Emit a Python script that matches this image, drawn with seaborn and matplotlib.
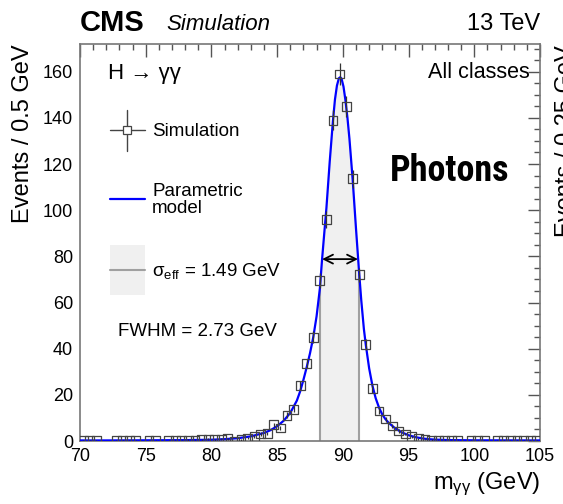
import numpy as np
import pandas as pd
import matplotlib
matplotlib.use("Agg")
import matplotlib.pyplot as plt
import seaborn as sns
from matplotlib.ticker import MultipleLocator
from matplotlib.lines import Line2D
from matplotlib.patches import Rectangle
from matplotlib import font_manager

# ---------------- data ----------------
mass = [70.25, 70.75, 71.25, 72.75, 73.25, 73.75, 74.25, 75.25, 75.75,
        76.75, 77.25, 77.75, 78.25, 78.75, 79.25, 79.75, 80.25, 80.75,
        81.25, 81.75, 82.25, 82.75, 83.25, 83.75, 84.25, 84.75, 85.25,
        85.75, 86.25, 86.75, 87.25, 87.75, 88.25, 88.75, 89.25, 89.75,
        90.25, 90.75, 91.25, 91.75, 92.25, 92.75, 93.25, 93.75, 94.25,
        94.75, 95.25, 95.75, 96.25, 96.75, 97.25, 97.75, 98.25, 98.75,
        99.75, 100.25, 100.75, 101.75, 102.25, 102.75, 103.25, 103.75,
        104.25, 104.75]
events = [0.3, 0.3, 0.3, 0.3, 0.3, 0.3, 0.3, 0.2, 0.3,
          0.3, 0.3, 0.3, 0.4, 0.3, 0.6, 0.7, 0.6, 0.8,
          1.0, -0.3, 0.6, 1.3, 2.1, 3.0, 3.4, 7.0, 5.6,
          11.2, 13.8, 24.0, 33.6, 45.0, 69.6, 96.0, 139.0, 159.0,
          145.0, 113.6, 72.0, 41.7, 22.6, 13.0, 9.5, 6.5, 4.3,
          3.0, 1.8, 1.0, 0.6, 0.4, 0.3, 0.3, 0.3, 0.3,
          0.3, 0.3, 0.3, 0.3, 0.3, 0.3, 0.3, 0.3,
          0.3, 0.3]
errors = [0.3, 0.3, 0.3, 0.3, 0.3, 0.3, 0.3, 0.3, 0.3,
          0.3, 0.3, 0.3, 0.3, 0.3, 0.4, 0.4, 0.4, 0.4,
          0.5, 0.4, 0.4, 0.5, 0.6, 0.7, 0.7, 1.0, 0.9,
          1.2, 1.4, 1.8, 2.1, 2.5, 3.1, 3.6, 4.4, 4.7,
          4.5, 3.9, 3.1, 2.4, 1.8, 1.3, 1.1, 0.9, 0.8,
          0.6, 0.5, 0.4, 0.3, 0.3, 0.3, 0.3, 0.3, 0.3,
          0.3, 0.3, 0.3, 0.3, 0.3, 0.3, 0.3, 0.3,
          0.3, 0.3]

model_mass = [70, 72, 75, 78, 80, 81, 82, 83, 84, 84.5, 85, 85.5, 86, 86.5,
              86.75, 87, 87.25, 87.5, 87.75, 88, 88.25, 88.42, 88.6, 88.75,
              89, 89.25, 89.4, 89.55, 89.7, 89.8, 89.9, 90.05, 90.2, 90.35,
              90.5, 90.75, 91, 91.15, 91.23, 91.4, 91.6, 91.75, 92, 92.25,
              92.5, 92.75, 93, 93.25, 93.5, 94, 94.5, 95, 95.5, 96, 96.5,
              97, 98, 100, 105]
model_events = [0.25, 0.25, 0.3, 0.38, 0.55, 0.8, 1.2, 2.0, 3.5, 4.7, 6.4,
                8.8, 12.2, 17.5, 21.5, 26.5, 32, 38, 45, 54, 66, 78.8, 91,
                101, 121, 139, 148, 154, 157.2, 157.6, 157, 153.5, 147.5,
                140, 131, 113, 92, 80, 73.5, 61, 48.5, 41.5, 31.5, 24, 18.5,
                14.5, 11.5, 9.4, 7.8, 5.4, 3.7, 2.5, 1.7, 1.15, 0.8, 0.6,
                0.4, 0.3, 0.25]

seff_lo, seff_hi = 88.25, 91.23
fwhm_lo, fwhm_hi, half_max = 88.42, 91.15, 78.8

xticks = [70, 75, 80, 85, 90, 95, 100, 105]
yticks = [0, 20, 40, 60, 80, 100, 120, 140, 160]

# ---------------- style ----------------
sns.set_style("white")
plt.rcParams["font.family"] = ["Liberation Sans", "DejaVu Sans"]
plt.rcParams["text.color"] = "black"
plt.rcParams["axes.labelcolor"] = "black"
plt.rcParams["mathtext.fontset"] = "custom"
plt.rcParams["mathtext.rm"] = "Liberation Sans"
plt.rcParams["mathtext.it"] = "Liberation Sans:italic"
plt.rcParams["mathtext.default"] = "regular"

# find a condensed bold face for the overlay caption, if one is installed
def condensed_bold():
    best = None
    for f in font_manager.fontManager.ttflist:
        name = f.name.lower()
        st = str(f.stretch).lower()
        narrow = ("narrow" in name or "condensed" in name
                  or st in ("condensed", "semi-condensed", "extra-condensed")
                  or (isinstance(f.stretch, int) and f.stretch < 500))
        w = f.weight if isinstance(f.weight, int) else (
            700 if "bold" in str(f.weight).lower() else 400)
        if narrow and w >= 600 and "italic" not in f.style and f.style == "normal":
            if best is None or "narrow" in name or "condensed" in name:
                best = f
    return font_manager.FontProperties(fname=best.fname) if best else None

W, H = 563, 504
fig = plt.figure(figsize=(W / 100, H / 100), dpi=100)
fig.patch.set_facecolor("white")
ax = fig.add_axes([80 / W, 1 - 441 / H, 460 / W, 397 / H])
ax.set_facecolor("white")

def P(x, y):
    return (x / W, 1 - y / H)

df = pd.DataFrame({"mass": mass, "events": events, "err": errors})
mdf = pd.DataFrame({"mass": model_mass, "events": model_events})

# sigma_eff band under the model
mx = np.array(model_mass)
my = np.array(model_events)
band = (mx >= seff_lo) & (mx <= seff_hi)
ax.fill_between(mx[band], 0, my[band], color="#f0f0f0", lw=0, zorder=1)
for edge in (seff_lo, seff_hi):
    yv = my[np.argmin(np.abs(mx - edge))]
    ax.plot([edge, edge], [0, yv], color="#a0a0a0", lw=1.5, zorder=2)

# model curve
sns.lineplot(data=mdf, x="mass", y="events", color="#0000ff", lw=1.6,
             ax=ax, zorder=4, sort=True, estimator=None)

# simulation points
ax.errorbar(df["mass"], df["events"], yerr=df["err"], fmt="none",
            ecolor="#333333", elinewidth=0.9, capsize=0, zorder=5)
sns.scatterplot(data=df, x="mass", y="events", marker="s", s=40,
                facecolor="none", edgecolor="#444444", linewidth=0.9,
                ax=ax, zorder=6)

# FWHM arrow
ax.annotate("", xy=(fwhm_lo, half_max), xytext=(fwhm_hi, half_max),
            arrowprops=dict(arrowstyle="<->", color="black", lw=1.3,
                            shrinkA=0, shrinkB=0, mutation_scale=16),
            zorder=7)

# axes formatting
ax.set_xlim(70, 105)
ax.set_ylim(0, 172)
ax.set_xticks(xticks)
ax.set_yticks(yticks)
ax.xaxis.set_minor_locator(MultipleLocator(1))
ax.yaxis.set_minor_locator(MultipleLocator(5))
ax.tick_params(which="both", direction="in", top=True, right=True,
               colors="#555555", labelcolor="black", labelsize=13, width=1)
ax.tick_params(which="major", length=9)
ax.tick_params(which="minor", length=4.5)
ax.tick_params(axis="x", pad=5)
ax.tick_params(axis="y", pad=5)
for s in ax.spines.values():
    s.set_color("#777777")
    s.set_linewidth(1.2)
ax.set_xlabel("")
ax.set_ylabel("")

# axis titles
fig.text(*P(23, 44), "Events / 0.5 GeV", rotation=90, ha="center",
         va="top", fontsize=17)
fig.text(*P(540, 484), r"m$_{\gamma\gamma}$ (GeV)", ha="right",
         va="center", fontsize=17)
# neighbouring panel's label, cut by the figure edge
fig.text(*P(566, 45), "Events / 0.25 GeV", rotation=90, ha="center",
         va="top", fontsize=17)

# header
fig.text(*P(80, 23), "CMS", fontsize=21, fontweight="bold", ha="left",
         va="center")
fig.text(*P(166, 24), "Simulation", fontsize=16, fontstyle="italic",
         ha="left", va="center")
fig.text(*P(540, 24), "13 TeV", fontsize=17, ha="right", va="center")

# in-plot labels
fig.text(*P(108, 73), "H → γγ", fontsize=16, ha="left", va="center",
         family=["Liberation Sans", "DejaVu Sans"])
fig.text(*P(530, 73), "All classes", fontsize=15.5, ha="right",
         va="center")

# legend (drawn by hand, ROOT style)
tf = fig.transFigure
x0, x1 = P(110, 0)[0], P(145, 0)[0]
fig.add_artist(Line2D([x0, x1], [P(0, 130)[1]] * 2, color="#444444",
                      lw=1.0, transform=tf))
fig.add_artist(Line2D([P(127, 0)[0]] * 2, [P(0, 110)[1], P(0, 151)[1]],
                      color="#444444", lw=1.0, transform=tf))
fig.add_artist(Line2D([P(127, 0)[0]], [P(0, 130)[1]], marker="s", ms=6,
                      mfc="white", mec="#444444", mew=0.9, transform=tf))
fig.text(*P(152, 131), "Simulation", fontsize=13.5, ha="left",
         va="center")

fig.add_artist(Line2D([x0, x1], [P(0, 199)[1]] * 2, color="#0000ff",
                      lw=1.6, transform=tf))
fig.text(*P(152, 200), "Parametric\nmodel", fontsize=13.5, ha="left",
         va="center", linespacing=1.05)

bx, by = P(110, 295)
fig.add_artist(Rectangle((bx, by), 35 / W, 50 / H, color="#f0f0f0",
                         lw=0, transform=tf))
fig.add_artist(Line2D([x0, x1], [P(0, 270)[1]] * 2, color="#a0a0a0",
                      lw=1.5, transform=tf))
fig.text(*P(152, 271), r"$\sigma_{\rm eff}$ = 1.49 GeV", fontsize=13.5,
         ha="left", va="center")

fig.text(*P(118, 332), "FWHM = 2.73 GeV", fontsize=13.5, ha="left",
         va="center")

# overlay caption
fp = condensed_bold()
if fp is not None:
    fp.set_size(26)
    fig.text(*P(450, 181), "Photons", fontproperties=fp, ha="center",
             va="baseline", color="black")
else:
    fig.text(*P(450, 181), "Photons", fontsize=21, fontweight="bold",
             ha="center", va="baseline", color="black")

fig.savefig("out.png", dpi=100, facecolor="white")
